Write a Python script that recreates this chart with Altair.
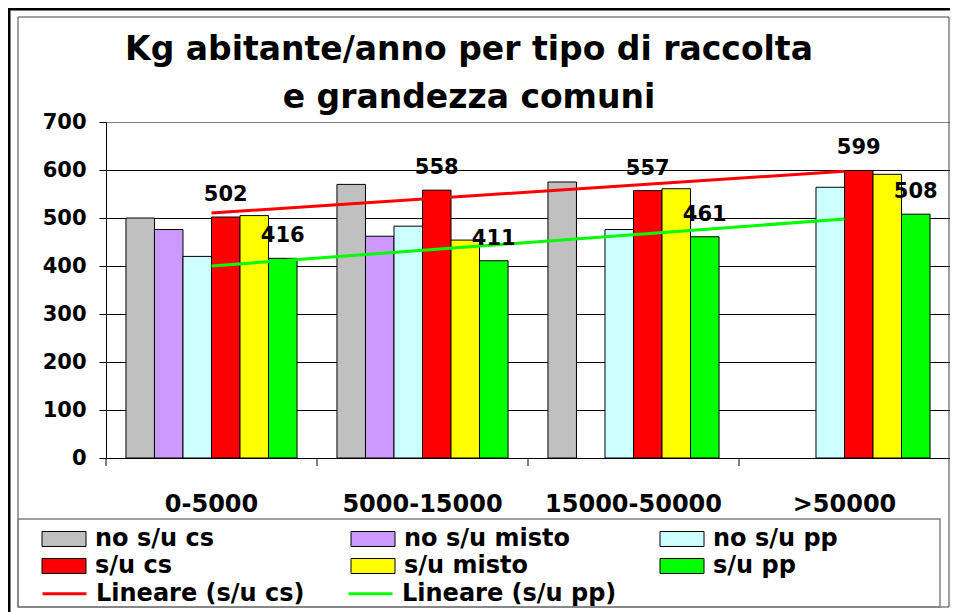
import json
import altair as alt
import pandas as pd

categories = ["0-5000", "5000-15000", "15000-50000", ">50000"]
series_names = ["no s/u cs", "no s/u misto", "no s/u pp", "s/u cs", "s/u misto", "s/u pp"]
series_colors = ["#C0C0C0", "#CC99FF", "#CCFFFF", "#FF0000", "#FFFF00", "#00FF00"]
# legend reading order (columns of the legend box)
legend_order = ["no s/u cs", "s/u cs", "no s/u misto", "s/u misto", "no s/u pp", "s/u pp"]

no_su_cs = [500, 570, 575, None]
no_su_misto = [476, 462, None, None]
no_su_pp = [420, 483, 476, 564]
su_cs = [502, 558, 557, 599]
su_misto = [505, 454, 561, 591]
su_pp = [416, 411, 461, 508]

labelled_series = ["s/u cs", "s/u pp"]
trend_names = ["Lineare (s/u cs)", "Lineare (s/u pp)"]
trend_colors = ["#FF0000", "#00FF00"]
y_ticks = [0, 100, 200, 300, 400, 500, 600, 700]
title_lines = ["Kg abitante/anno per tipo di raccolta", "e grandezza comuni"]

rows = []
for name, vals in zip(series_names, [no_su_cs, no_su_misto, no_su_pp, su_cs, su_misto, su_pp]):
    for i, (cat, v) in enumerate(zip(categories, vals)):
        if v is not None:
            rows.append({"cat": cat, "idx": i + 1, "series": name, "value": v})
df = pd.DataFrame(rows)
cat_df = pd.DataFrame({"cat": categories})
color_of = dict(zip(series_names, series_colors))
legend_colors = [color_of[s] for s in legend_order]

FONT = "DejaVu Sans"

x_scale = alt.Scale(domain=categories, paddingInner=0, paddingOuter=0)
x_axis = alt.Axis(title=None, ticks=False, tickSize=0, labelAngle=0, labelFont=FONT,
                  labelFontSize=24, labelFontWeight="bold", labelColor="black",
                  labelPadding=34, labelLimit=400, domainColor="black", domainWidth=1)
y_axis = alt.Axis(title=None, values=y_ticks, labelFont=FONT, labelFontSize=21,
                  labelFontWeight="bold", labelColor="black", labelPadding=13,
                  tickColor="black", tickSize=7, tickWidth=1, domainColor="black",
                  domainWidth=1, gridWidth=1,
                  gridColor={"condition": {"test": "datum.value === 700", "value": "#808080"},
                             "value": "black"})
xoff_scale = alt.Scale(domain=series_names, paddingInner=0, paddingOuter=0.7)

deco = alt.Chart(alt.Data(values=[{"k": 0}]))
outer_frame = deco.mark_rect(filled=False, stroke="black", strokeWidth=3).encode(
    x=alt.value(-97), x2=alt.value(870), y=alt.value(-113), y2=alt.value(510))
inner_frame = deco.mark_rect(filled=False, stroke="#404040", strokeWidth=1).encode(
    x=alt.value(-88), x2=alt.value(843), y=alt.value(-105), y2=alt.value(485))
legend_box = deco.mark_rect(filled=False, stroke="#808080", strokeWidth=1.5).encode(
    x=alt.value(-88), x2=alt.value(834), y=alt.value(397), y2=alt.value(485))
title = deco.mark_text(text=title_lines, font=FONT, fontSize=33, fontWeight="bold",
                       color="black", align="center", baseline="alphabetic",
                       lineHeight=48).encode(x=alt.value(363), y=alt.value(-62))

bars = alt.Chart(df).mark_bar(stroke="black", strokeWidth=1).encode(
    x=alt.X("cat:N", scale=x_scale, axis=x_axis),
    xOffset=alt.XOffset("series:N", scale=xoff_scale),
    y=alt.Y("value:Q", scale=alt.Scale(domain=[0, 700], nice=False), axis=y_axis),
    fill=alt.Fill("series:N", scale=alt.Scale(domain=legend_order, range=legend_colors),
                  legend=alt.Legend(title=None, orient="none", legendX=-65, legendY=405,
                                    columns=3, gridAlign="all", columnPadding=88,
                                    rowPadding=3, padding=0,
                                    symbolType="M-2,-0.68L2,-0.68L2,0.68L-2,0.68Z",
                                    symbolSize=484, symbolOffset=11,
                                    symbolStrokeColor="black", symbolStrokeWidth=1,
                                    symbolOpacity=1, labelOffset=19, labelFont=FONT,
                                    labelFontSize=24, labelFontWeight="bold",
                                    labelColor="black", labelLimit=400)),
)

ticks = alt.Chart(cat_df).mark_rule(color="black", strokeWidth=1).encode(
    x=alt.X("cat:N", bandPosition=0), y=alt.value(336), y2=alt.value(344))

cat_expr = json.dumps(categories) + "[round(datum.idx) - 1]"
lines = alt.Chart(df).transform_filter(
    alt.FieldOneOfPredicate(field="series", oneOf=labelled_series)
).transform_regression("idx", "value", groupby=["series"]).transform_filter(
    "datum.idx == round(datum.idx)"
).transform_calculate(
    cat=cat_expr, trend="'Lineare (' + datum.series + ')'"
).mark_line(strokeWidth=3).encode(
    x=alt.X("cat:N"),
    y=alt.Y("value:Q"),
    stroke=alt.Stroke("trend:N", scale=alt.Scale(domain=trend_names, range=trend_colors),
                      legend=alt.Legend(title=None, orient="none", legendX=-65, legendY=459,
                                        columns=2, gridAlign="all", columnPadding=31,
                                        padding=0, symbolType="M-2,0L2,0", symbolSize=484,
                                        symbolOffset=11, symbolStrokeWidth=3,
                                        labelOffset=19, labelFont=FONT, labelFontSize=24,
                                        labelFontWeight="bold", labelColor="black",
                                        labelLimit=400)),
)

labels = alt.Chart(df).transform_filter(
    alt.FieldOneOfPredicate(field="series", oneOf=labelled_series)
).mark_text(font=FONT, fontSize=21, fontWeight="bold", dy=-22, color="black").encode(
    x=alt.X("cat:N"),
    xOffset=alt.XOffset("series:N"),
    y=alt.Y("value:Q"),
    text=alt.Text("value:Q"),
)

chart = alt.layer(outer_frame, inner_frame, legend_box, title, bars, ticks, lines, labels).properties(
    width=844, height=336,
    autosize=alt.AutoSizeParams(type="none"),
    padding={"left": 98, "top": 114, "right": 0, "bottom": 154},
    background="white",
).configure_view(stroke="#808080", strokeWidth=1)

chart.save("out.html", embed_options={"renderer": "svg", "actions": False})
